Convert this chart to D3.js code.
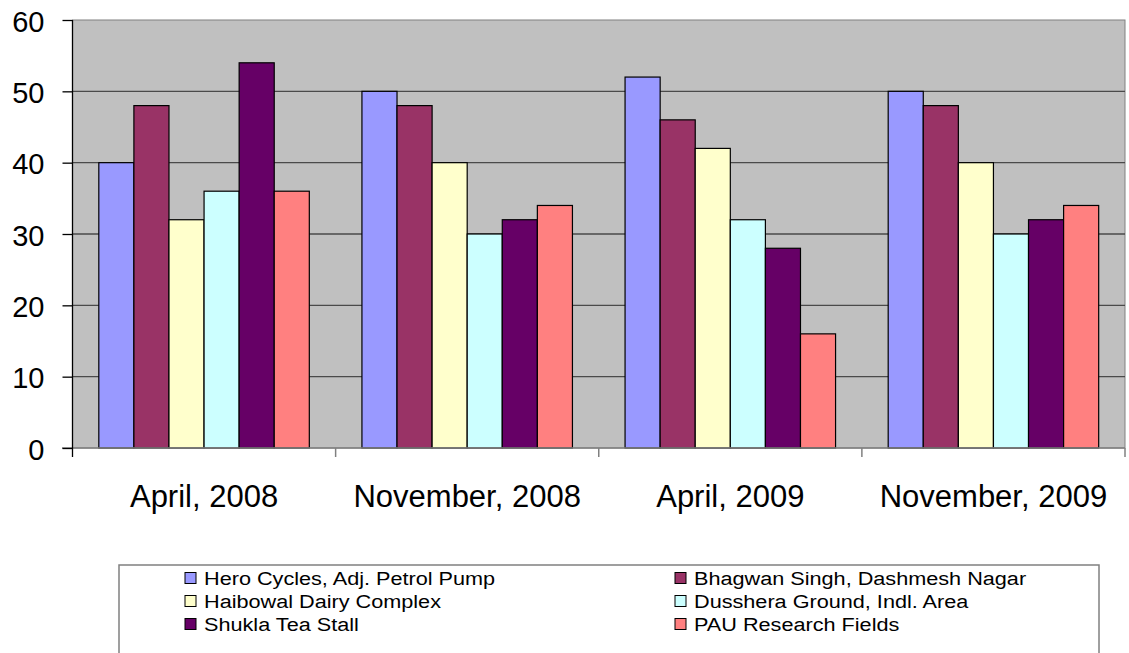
<!DOCTYPE html>
<html>
<head>
<meta charset="utf-8">
<script src="https://cdn.jsdelivr.net/npm/d3@7"></script>
<style>
  body { margin: 0; background: #fff; }
  svg { display: block; font-family: 'Liberation Sans', Arial, sans-serif; }
</style>
</head>
<body>
<svg width="1129" height="653"></svg>
<script>
const periods = ['April, 2008', 'November, 2008', 'April, 2009', 'November, 2009'];
const sites = [
  'Hero Cycles, Adj. Petrol Pump',
  'Bhagwan Singh, Dashmesh Nagar',
  'Haibowal Dairy Complex',
  'Dusshera Ground, Indl. Area',
  'Shukla Tea Stall',
  'PAU Research Fields'
];
const heroCycles   = [40, 50, 52, 50];
const bhagwanSingh = [48, 48, 46, 48];
const haibowal     = [32, 40, 42, 40];
const dusshera     = [36, 30, 32, 30];
const shukla       = [54, 32, 28, 32];
const pau          = [36, 34, 16, 34];
const yTicks = [0, 10, 20, 30, 40, 50, 60];

const colors = ['#9999ff', '#993366', '#ffffcc', '#ccffff', '#660066', '#ff8080'];
const seriesValues = [heroCycles, bhagwanSingh, haibowal, dusshera, shukla, pau];

const svg = d3.select('svg');
const plotLeft = 72.5, plotRight = 1125, plotTop = 20, plotBottom = 448;

const x0 = d3.scaleBand().domain(periods).range([plotLeft, plotRight]);
const x1 = d3.scaleBand().domain(sites).range([0, x0.bandwidth()]).paddingOuter(0.75);
const y = d3.scaleLinear().domain([0, 60]).range([plotBottom, plotTop]);
const color = d3.scaleOrdinal().domain(sites).range(colors);

// plot background
svg.append('rect')
  .attr('x', plotLeft).attr('y', plotTop)
  .attr('width', plotRight - plotLeft).attr('height', plotBottom - plotTop)
  .attr('fill', '#c0c0c0')
  .attr('stroke', '#808080')
  .attr('stroke-width', 1);

// gridlines
svg.append('g')
  .selectAll('line')
  .data(yTicks.filter(d => d > 0 && d < 60))
  .join('line')
  .attr('x1', plotLeft).attr('x2', plotRight)
  .attr('y1', d => y(d)).attr('y2', d => y(d))
  .attr('stroke', '#4a4a4a')
  .attr('stroke-width', 1.3);

// bars
const rows = periods.map((p, i) => ({ period: p, values: sites.map((s, j) => ({ site: s, value: seriesValues[j][i] })) }));

svg.append('g')
  .selectAll('g')
  .data(rows)
  .join('g')
  .attr('transform', d => `translate(${x0(d.period)},0)`)
  .selectAll('rect')
  .data(d => d.values)
  .join('rect')
  .attr('x', d => x1(d.site))
  .attr('y', d => y(d.value))
  .attr('width', x1.bandwidth())
  .attr('height', d => y(0) - y(d.value))
  .attr('fill', d => color(d.site))
  .attr('stroke', '#000')
  .attr('stroke-width', 1.2);

// x axis
const xAxis = svg.append('g')
  .attr('transform', `translate(0,${plotBottom})`);
xAxis.append('line')
  .attr('x1', 62).attr('x2', plotRight)
  .attr('stroke', '#808080').attr('stroke-width', 1.5);
xAxis.selectAll('line.tick')
  .data(periods)
  .join('line')
  .attr('class', 'tick')
  .attr('x1', d => x0(d) + x0.bandwidth()).attr('x2', d => x0(d) + x0.bandwidth())
  .attr('y1', 0).attr('y2', 9)
  .attr('stroke', '#808080').attr('stroke-width', 1.5);
xAxis.selectAll('text')
  .data(periods)
  .join('text')
  .attr('x', d => x0(d) + x0.bandwidth() / 2)
  .attr('y', 59)
  .attr('text-anchor', 'middle')
  .attr('font-size', 31)
  .attr('fill', '#000')
  .text(d => d);

// y axis
const yAxis = svg.append('g')
  .attr('transform', `translate(${plotLeft},0)`)
  .call(d3.axisLeft(y).tickValues(yTicks).tickSize(10).tickPadding(0).tickFormat(d3.format('d')));
yAxis.select('.domain').remove();
yAxis.append('line')
  .attr('y1', plotTop).attr('y2', plotBottom + 9)
  .attr('stroke', '#000').attr('stroke-width', 1.3);
yAxis.selectAll('.tick line').attr('stroke', '#000').attr('stroke-width', 1.3);
yAxis.selectAll('.tick text')
  .attr('x', -28)
  .attr('dy', '0.38em')
  .attr('font-size', 29)
  .attr('font-family', "'Liberation Sans', Arial, sans-serif")
  .attr('fill', '#000');

// legend
const legend = svg.append('g');
legend.append('rect')
  .attr('x', 119).attr('y', 565)
  .attr('width', 980).attr('height', 100)
  .attr('fill', '#fff')
  .attr('stroke', '#808080')
  .attr('stroke-width', 1.5);

const legendCols = [185, 675];
const legendRows = [578, 601, 624];
const items = legend.selectAll('g.item')
  .data(sites)
  .join('g')
  .attr('class', 'item')
  .attr('transform', (d, i) => `translate(${legendCols[i % 2]},${legendRows[Math.floor(i / 2)]})`);
items.append('rect')
  .attr('x', 0).attr('y', -5.5)
  .attr('width', 11).attr('height', 11)
  .attr('fill', d => color(d))
  .attr('stroke', '#000')
  .attr('stroke-width', 1);
items.append('text')
  .attr('transform', 'translate(19,0) scale(1.14,1)')
  .attr('dy', '0.36em')
  .attr('font-size', 19)
  .attr('fill', '#000')
  .text(d => d);
</script>
</body>
</html>
